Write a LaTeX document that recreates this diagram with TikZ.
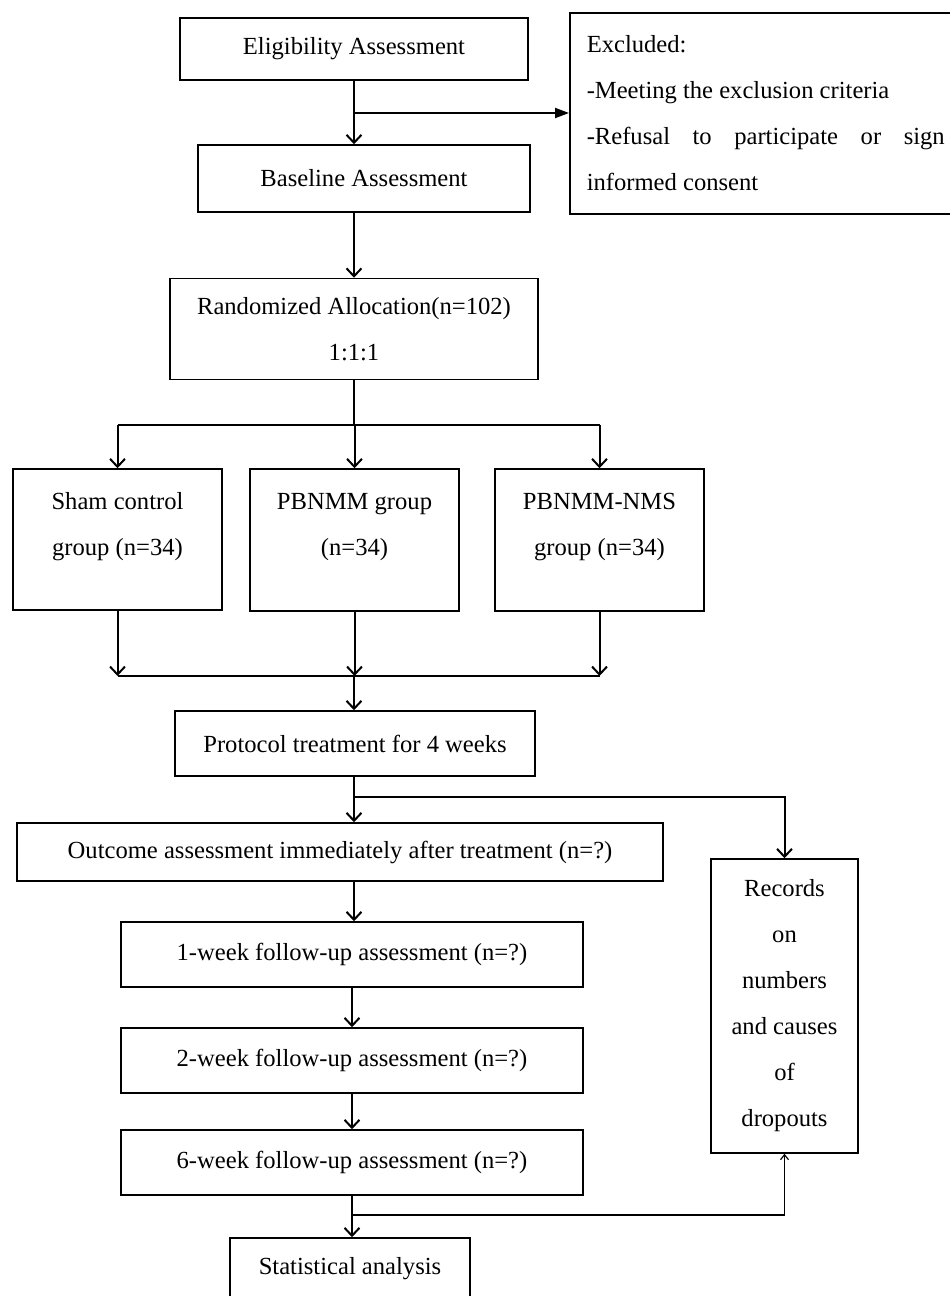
\documentclass[tikz,border=0pt]{standalone}
\usepackage{fontspec}
\setmainfont{Liberation Serif}
\usetikzlibrary{arrows.meta,calc}

\begin{document}
\begin{tikzpicture}[x=0.5pt, y=-0.5pt,
  box/.style={draw, line width=0.75pt, align=center, inner sep=0pt,
              font=\fontsize{12.3}{23}\selectfont},
  line/.style={line width=1pt},
  arr/.style={line width=1pt, -{Straight Barb[length=4pt,width=7.5pt]}},
  exarr/.style={line width=1pt, -{Triangle[length=7pt,width=5pt]}},
  uparr/.style={line width=0.6pt, -{Straight Barb[length=2.5pt,width=4pt]}}]
\useasboundingbox (0,0) rectangle (949,1296);

\node[box, minimum width=174pt, minimum height=31pt] (elig) at (354,49) {Eligibility Assessment};
\node[box, anchor=north west, align=justify, text width=179pt, inner xsep=8.5pt,
      minimum height=100.5pt] (excl) at (569,12) {Excluded:\\
      -Meeting the exclusion criteria\\
      -Refusal to participate or sign \mbox{informed} consent};
\node[box, minimum width=166pt, minimum height=33.5pt] (base) at (364,178.5) {Baseline Assessment};
\node[box, minimum width=184pt, minimum height=50.5pt] (rand) at (354,329) {Randomized Allocation(n=102)\\1:1:1};

\node[box, minimum width=104.5pt, minimum height=70.5pt] (sham) at (117.5,539.5) {Sham control\\group (n=34)\\[-7pt]\mbox{}};
\node[box, minimum width=104.5pt, minimum height=71pt] (pbnmm) at (354.5,540) {PBNMM group\\(n=34)\\[-7pt]\mbox{}};
\node[box, minimum width=104.5pt, minimum height=71pt] (nms) at (599.5,540) {PBNMM-NMS\\group (n=34)\\[-7pt]\mbox{}};

\node[box, minimum width=180pt, minimum height=32.5pt] (prot) at (355,743.5) {Protocol treatment for 4 weeks};
\node[box, minimum width=323pt, minimum height=29pt] (outc) at (340,852) {Outcome assessment immediately after treatment (n=?)};
\node[box, minimum width=73.5pt, minimum height=147pt] (rec) at (784.5,1006) {Records\\on\\numbers\\and causes\\of\\dropouts};

\node[box, minimum width=231pt, minimum height=32.5pt] (wk1) at (352,954.5) {1-week follow-up assessment (n=?)};
\node[box, minimum width=231pt, minimum height=32.5pt] (wk2) at (352,1060.5) {2-week follow-up assessment (n=?)};
\node[box, minimum width=231pt, minimum height=32.5pt] (wk6) at (352,1162.5) {6-week follow-up assessment (n=?)};
\node[box, minimum width=120pt, minimum height=31pt] (stat) at (350,1269) {Statistical analysis};

% junctions
\coordinate (j1) at (354,113);
\coordinate (j2) at (354,425);
\coordinate (j3) at (354,676);
\coordinate (j4) at (354,797);
\coordinate (j5) at (354,1215);

\draw[arr] (elig.south) -- (elig.south |- base.north);
\draw[exarr] (j1) -- (j1 -| excl.west);
\draw[arr] (base.south -| elig) -- (rand.north);
\draw[line] (rand.south) -- (j2);
\draw[line] (j2 -| sham) -- (j2 -| nms);
\foreach \g in {sham,pbnmm,nms}
  \draw[arr] (j2 -| \g) -- (\g.north);
\foreach \g in {sham,pbnmm,nms}
  \draw[arr] (\g.south) -- (j3 -| \g);
\draw[line] (j3 -| sham) -- (j3 -| nms);
\draw[arr] (j3) -- (j3 |- prot.north);
\draw[arr] (j3 |- prot.south) -- (j3 |- outc.north);
\draw[arr] (j4) -| (rec.north);
\draw[arr] (j3 |- outc.south) -- (j3 |- wk1.north);
\draw[arr] (wk1.south) -- (wk2.north);
\draw[arr] (wk2.south) -- (wk6.north);
\draw[arr] (wk6.south) -- (stat.north -| wk6);
\draw[line] (j5 -| wk6) -- (j5 -| rec);
\draw[uparr] (j5 -| rec) -- (rec.south);
\end{tikzpicture}
\end{document}
